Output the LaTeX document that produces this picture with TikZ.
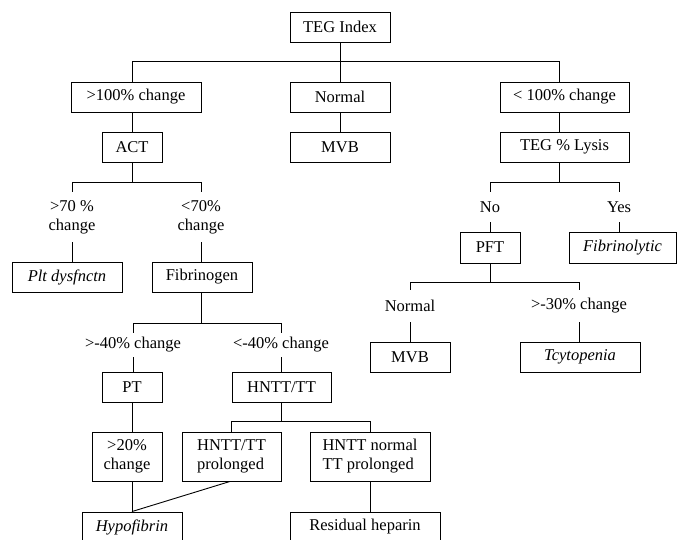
\documentclass[tikz,border=0pt]{standalone}
\usepackage{fontspec}
\setmainfont{Liberation Serif}
\usetikzlibrary{calc}
\begin{document}
\begin{tikzpicture}[x=1bp,y=-1bp,line width=0.9bp,
  font=\fontsize{16.5bp}{19bp}\selectfont,
  box/.style={draw,inner sep=0pt,minimum height=30bp},
  lbl/.style={inner sep=0pt,align=center}]
\useasboundingbox (0,0) rectangle (678,540);
\clip (0,0) rectangle (678,540);
\fill[white] (0,0) rectangle (678,540);
\coordinate (rx) at (559,0);
% top level
\node[box,minimum width=100bp] (teg) at (340,27) {TEG Index};
\node[box,minimum width=130bp] (gt100) at (136,97) {>100\% change};
\node[box,minimum width=100bp] (normal) at (340,97) {Normal};
\node[box,minimum width=129bp] (lt100) at (564.5,97) {< 100\% change};
\node[box,minimum width=60bp] (act) at (132,147) {ACT};
\node[box,minimum width=100bp] (mvba) at (340,147) {MVB};
\node[box,minimum width=129bp] (lysis) at (564.5,147) {TEG \% Lysis};
% left branch
\node[lbl,minimum height=50bp] (c70a) at (72,217) {>70 \%\\change};
\node[lbl,minimum height=50bp] (c70b) at (201,217) {<70\%\\change};
\node[box,minimum width=110bp] (plt) at (67,277) {\itshape Plt dysfnctn};
\node[box,minimum width=100bp] (fib) at (202,277) {Fibrinogen};
\node[lbl,minimum height=24bp] (c40a) at (133,345) {>-40\% change};
\node[lbl,minimum height=24bp] (c40b) at (281,345) {<-40\% change};
\node[box,minimum width=60bp] (pt) at (132,387) {PT};
\node[box,minimum width=99bp] (hntt) at (281.5,387) {HNTT/TT};
\node[box,minimum width=70bp,minimum height=49bp,align=center] (gt20) at (127,456.5) {>20\%\\change};
\node[box,minimum width=99bp,minimum height=49bp,align=left] (hpro) at (231.5,456.5) {HNTT/TT\\prolonged};
\node[box,minimum width=120bp,minimum height=49bp,align=left] (hnorm) at (370,456.5) {HNTT normal\\TT prolonged};
\node[box,minimum width=100bp] (hypo) at (132,527) {\itshape Hypofibrin};
\node[box,minimum width=150bp] (resid) at (365,527) {Residual heparin};
% right branch
\node[lbl,minimum height=30bp] (no) at (490,207) {No};
\node[lbl,minimum height=30bp] (yes) at (619,207) {Yes};
\node[box,minimum width=60bp,minimum height=31bp] (pft) at (490,247.5) {PFT};
\node[box,minimum width=107bp,minimum height=31bp] (fibrino) at (622.5,247.5) {\itshape Fibrinolytic};
\node[lbl,minimum height=32bp] (nrm) at (410,306) {Normal};
\node[lbl,minimum height=32bp] (c30) at (579,306) {>-30\% change};
\node[box,minimum width=80bp] (mvbb) at (410,357) {MVB};
\node[box,minimum width=120bp] (tcy) at (580,357) {\itshape Tcytopenia};
% connectors
\draw (teg) -- (normal);
\draw (gt100.north -| act) -- ++(0,-20) -| (lt100.north -| rx);
\draw (gt100.south -| act) -- (act.north);
\draw (normal) -- (mvba);
\draw (lt100.south -| rx) -- (lysis.north -| rx);
\draw (act.south) -- ++(0,20) coordinate (j1);
\draw (c70a.north) |- (j1) -| (c70b.north);
\draw (c70a.south) -- (c70a.south |- plt.north);
\draw (c70b.south) -- (c70b.south |- fib.north);
\draw (fib.south -| c70b) -- ++(0,31) coordinate (j2);
\draw (c40a.north) |- (j2) -| (c40b.north);
\draw (c40a.south) -- (c40a.south |- pt.north);
\draw (c40b.south) -- (c40b.south |- hntt.north);
\draw (pt.south) -- (pt.south |- gt20.north);
\draw (hntt.south) -- ++(0,19) coordinate (j3);
\draw (hpro.north) |- (j3) -| (hnorm.north);
\draw (gt20.south -| pt) -- (hypo.north);
\draw ([xshift=-1.5bp]hpro.south) -- (hypo.north);
\draw (hnorm.south) -- (hnorm.south |- resid.north);
\draw (lysis.south -| rx) -- ++(0,20) coordinate (j4);
\draw (no.north) |- (j4) -| (yes.north);
\draw (no) -- (pft);
\draw (yes.south) -- (yes.south |- fibrino.north);
\draw (pft.south) -- ++(0,19) coordinate (j5);
\draw (nrm.north) |- (j5) -| (c30.north);
\draw (nrm) -- (mvbb);
\draw (c30.south) -- (c30.south |- tcy.north);
\end{tikzpicture}
\end{document}
